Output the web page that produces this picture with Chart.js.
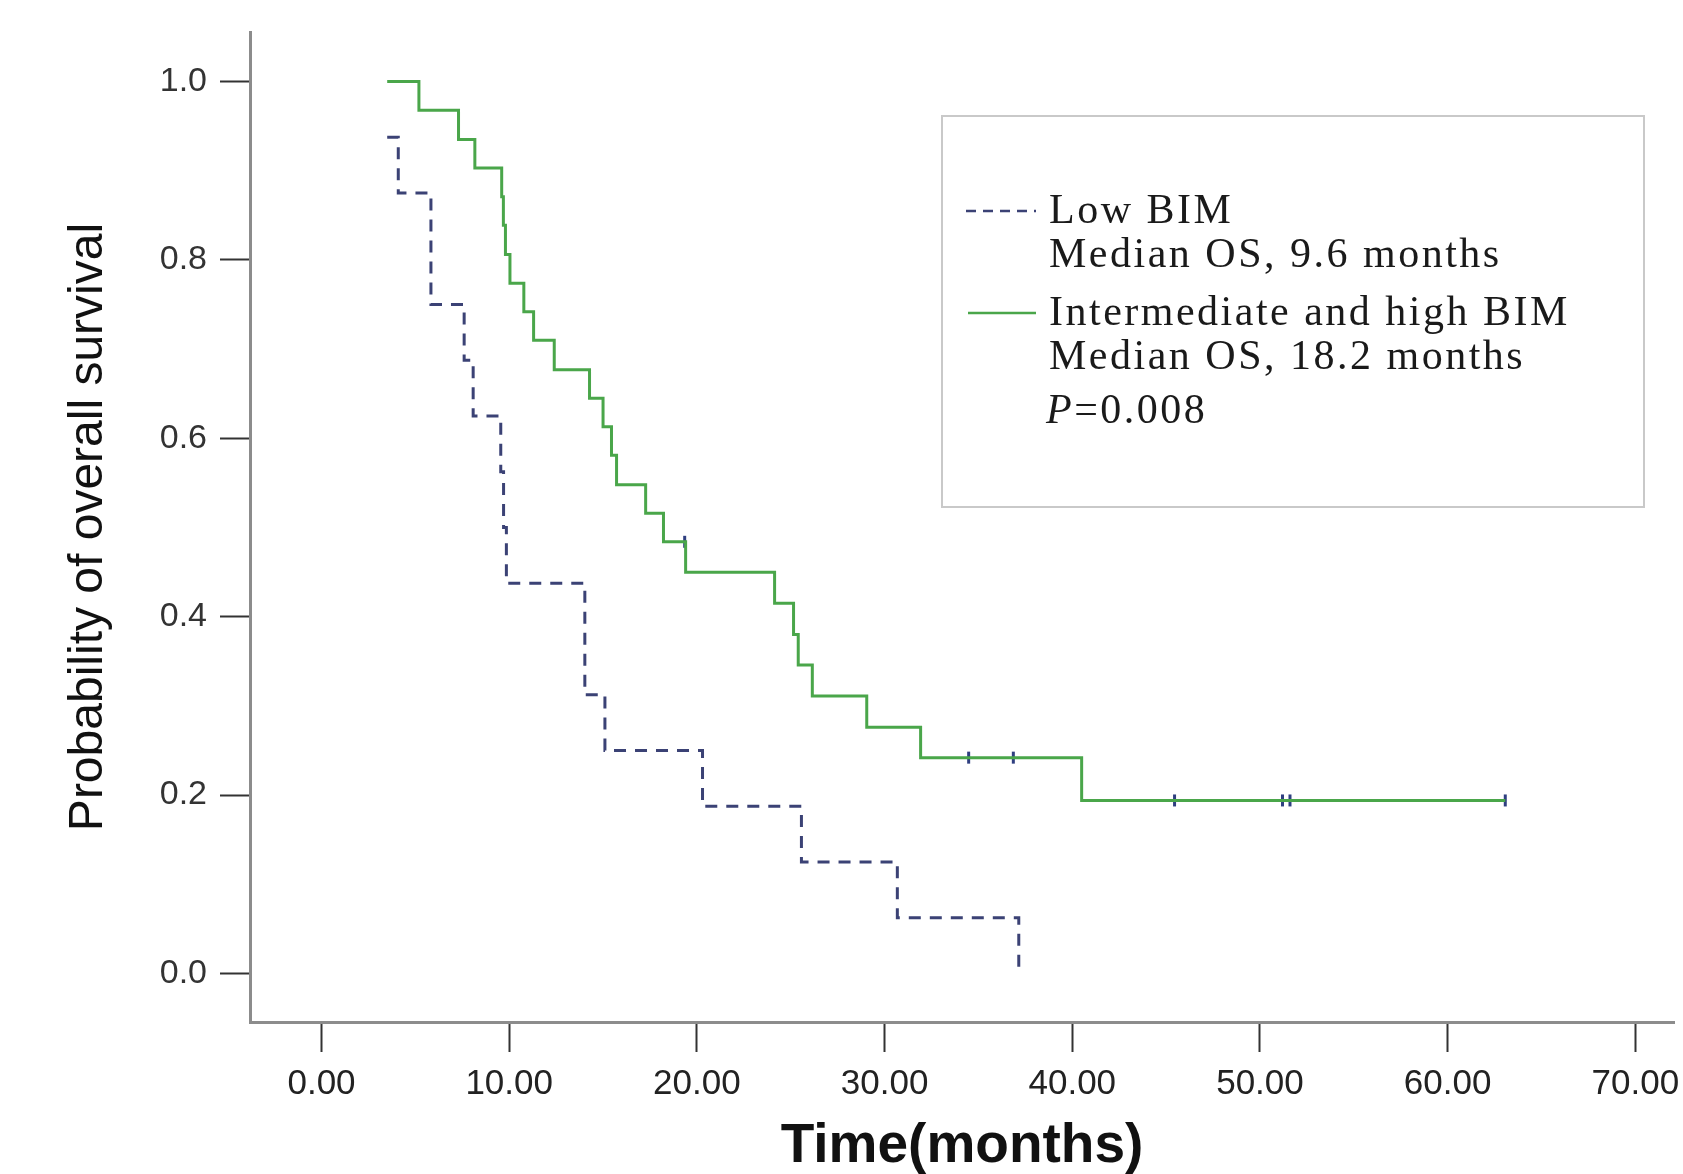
<!DOCTYPE html>
<html>
<head>
<meta charset="utf-8">
<script src="https://cdn.jsdelivr.net/npm/chart.js@4.4.1/dist/chart.umd.min.js"></script>
<style>
  html, body { margin: 0; padding: 0; background: #fff; }
</style>
</head>
<body>
<canvas id="chart" width="1683" height="1174"></canvas>
<script>
// Kaplan-Meier: overall survival by BIM level

// Low BIM (dashed)
const lowTimes = [3.5, 4.09, 5.83, 7.6, 8.08, 9.55, 9.7, 9.85, 14.03, 15.1, 20.3, 25.57, 30.68, 37.15];
const lowSurv  = [0.9375, 0.875, 0.75, 0.6875, 0.625, 0.5625, 0.5, 0.4375, 0.3125, 0.25, 0.1875, 0.125, 0.0625, 0.0];

// Intermediate and high BIM (solid)
const highTimes = [3.5, 5.19, 7.3, 8.17, 9.6, 9.69, 9.8, 10.04, 10.78, 11.3, 12.4, 14.28, 15.0, 15.45, 15.72, 17.27, 18.22, 19.4, 24.14, 25.15, 25.4, 26.15, 29.05, 31.92, 40.5, 63.07];
const highSurv  = [1.0, 0.968, 0.935, 0.903, 0.871, 0.839, 0.806, 0.774, 0.742, 0.710, 0.677, 0.645, 0.613, 0.581, 0.548, 0.516, 0.484, 0.450, 0.415, 0.380, 0.346, 0.311, 0.276, 0.242, 0.194, 0.194];

// censored cases on the solid curve
const censorTimes = [19.35, 34.48, 36.86, 45.45, 51.2, 51.6, 63.07];
const censorSurv  = [0.484, 0.242, 0.242, 0.194, 0.194, 0.194, 0.194];

const xTicks = [0, 10, 20, 30, 40, 50, 60, 70];
const yTicks = [0, 0.2, 0.4, 0.6, 0.8, 1.0];

const legendLines = ["Low BIM", "Median OS, 9.6 months", "Intermediate and high BIM", "Median OS, 18.2 months"];
const pValue = "0.008";

const lowColor = "#3b4275";
const highColor = "#4aa64a";
const censorColor = "#2f3f80";

const toPoints = (xs, ys) => xs.map((x, i) => ({ x: x, y: ys[i] }));

// legend box drawn by hand (multi-line entries + p value)
const legendBox = {
    id: "legendBox",
    afterDraw(chart) {
        const ctx = chart.ctx;
        ctx.save();
        ctx.strokeStyle = "#c9c9c9";
        ctx.lineWidth = 2;
        ctx.strokeRect(942, 116, 702, 391);

        ctx.lineWidth = 2.5;
        ctx.strokeStyle = lowColor;
        ctx.setLineDash([10, 7]);
        ctx.beginPath(); ctx.moveTo(966, 211); ctx.lineTo(1036, 211); ctx.stroke();
        ctx.setLineDash([]);
        ctx.strokeStyle = highColor;
        ctx.beginPath(); ctx.moveTo(968, 313); ctx.lineTo(1036, 313); ctx.stroke();

        ctx.fillStyle = "#1a1a1a";
        ctx.textBaseline = "middle";
        ctx.textAlign = "left";
        ctx.letterSpacing = "2.5px";
        ctx.font = "42px 'Liberation Serif', serif";
        const ys = [212, 256, 314, 358];
        legendLines.forEach((t, i) => ctx.fillText(t, 1049, ys[i]));

        ctx.font = "italic 42px 'Liberation Serif', serif";
        ctx.fillText("P", 1046, 412);
        const w = ctx.measureText("P").width;
        ctx.font = "42px 'Liberation Serif', serif";
        ctx.fillText("=" + pValue, 1046 + w, 412);
        ctx.restore();
    }
};

new Chart(document.querySelector("#chart").getContext("2d"), {
    type: "line",
    data: {
        datasets: [
            {
                label: "Low BIM",
                data: toPoints(lowTimes, lowSurv),
                stepped: true,
                borderColor: lowColor,
                borderWidth: 3,
                borderDash: [12, 9],
                pointRadius: 0,
                fill: false,
            },
            {
                label: "Intermediate and high BIM",
                data: toPoints(highTimes, highSurv),
                stepped: true,
                borderColor: highColor,
                borderWidth: 3,
                pointRadius: 0,
                fill: false,
            },
            {
                label: "Censored",
                type: "scatter",
                data: toPoints(censorTimes, censorSurv),
                pointStyle: "line",
                rotation: 90,
                pointRadius: 6,
                borderColor: censorColor,
                borderWidth: 3,
            },
        ]
    },
    options: {
        responsive: false,
        animation: false,
        layout: { padding: { top: 32, right: 0, bottom: 0, left: 0 } },
        plugins: {
            legend: { display: false },
            tooltip: { enabled: false },
        },
        scales: {
            x: {
                type: "linear",
                min: -3.81,
                max: 72.06,
                afterBuildTicks: s => { s.ticks = xTicks.map(v => ({ value: v })); },
                afterFit: s => { s.height = 152; s.paddingLeft = 0; s.paddingRight = 0; },
                grid: { drawOnChartArea: false, drawTicks: true, tickLength: 30, tickColor: "#333", tickWidth: 2 },
                border: { display: true, color: "#8c8c8c", width: 3 },
                ticks: {
                    padding: 11,
                    color: "#222",
                    font: { family: "'Liberation Sans', Arial, sans-serif", size: 35 },
                    callback: v => v.toFixed(2),
                },
                title: {
                    display: true,
                    text: "Time(months)",
                    color: "#111",
                    padding: { top: 0, bottom: 0 },
                    font: { family: "'Liberation Sans', Arial, sans-serif", size: 55, weight: "bold", lineHeight: 1 },
                },
            },
            y: {
                type: "linear",
                min: -0.0544,
                max: 1.0556,
                afterBuildTicks: s => { s.ticks = yTicks.map(v => ({ value: v })); },
                afterFit: s => { s.width = 250; s.paddingTop = 0; s.paddingBottom = 0; },
                grid: { drawOnChartArea: false, drawTicks: true, tickLength: 30, tickColor: "#333", tickWidth: 2 },
                border: { display: true, color: "#8c8c8c", width: 3 },
                ticks: {
                    padding: 13,
                    color: "#333",
                    font: { family: "'Liberation Sans', Arial, sans-serif", size: 34 },
                    callback: v => v.toFixed(1),
                },
                title: {
                    display: true,
                    text: "Probability of overall survival",
                    color: "#111",
                    padding: { top: 65, bottom: 0 },
                    font: { family: "'Liberation Sans', Arial, sans-serif", size: 48, lineHeight: 1 },
                },
            },
        }
    },
    plugins: [legendBox]
});
</script>
</body>
</html>
